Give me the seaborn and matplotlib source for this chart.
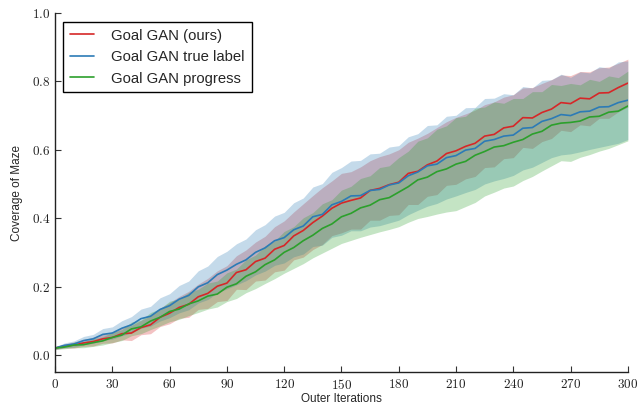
import numpy as np
import pandas as pd
import matplotlib
matplotlib.use("Agg")
import matplotlib.pyplot as plt
import seaborn as sns

# ---------------- data ----------------
iterations = list(range(0, 301, 5))

red_mean = [0.020, 0.026, 0.029, 0.035, 0.039, 0.047, 0.051, 0.062, 0.064, 0.080,
            0.088, 0.110, 0.122, 0.139, 0.148, 0.170, 0.180, 0.201, 0.210, 0.241,
            0.249, 0.273, 0.283, 0.309, 0.320, 0.348, 0.364, 0.387, 0.406, 0.429,
            0.444, 0.452, 0.459, 0.481, 0.487, 0.498, 0.505, 0.531, 0.537, 0.556,
            0.567, 0.589, 0.597, 0.610, 0.619, 0.640, 0.645, 0.664, 0.669, 0.694,
            0.693, 0.709, 0.719, 0.738, 0.735, 0.751, 0.749, 0.766, 0.767, 0.782,
            0.795]
red_std = [0.004, 0.006, 0.009, 0.010, 0.013, 0.013, 0.016, 0.018, 0.022, 0.021,
           0.026, 0.027, 0.031, 0.032, 0.038, 0.037, 0.044, 0.045, 0.051, 0.049,
           0.058, 0.057, 0.064, 0.066, 0.072, 0.070, 0.078, 0.079, 0.083, 0.080,
           0.087, 0.084, 0.091, 0.087, 0.093, 0.090, 0.095, 0.091, 0.097, 0.092,
           0.098, 0.093, 0.098, 0.095, 0.097, 0.092, 0.095, 0.090, 0.092, 0.087,
           0.089, 0.085, 0.086, 0.081, 0.082, 0.078, 0.079, 0.074, 0.075, 0.071,
           0.070]

blue_mean = [0.020, 0.028, 0.032, 0.042, 0.047, 0.060, 0.064, 0.078, 0.088, 0.106,
             0.113, 0.133, 0.144, 0.163, 0.174, 0.199, 0.211, 0.235, 0.248, 0.265,
             0.278, 0.300, 0.313, 0.334, 0.343, 0.366, 0.377, 0.404, 0.411, 0.439,
             0.449, 0.465, 0.466, 0.481, 0.484, 0.497, 0.503, 0.524, 0.535, 0.553,
             0.558, 0.577, 0.583, 0.599, 0.604, 0.625, 0.630, 0.640, 0.643, 0.663,
             0.665, 0.683, 0.691, 0.703, 0.700, 0.711, 0.713, 0.725, 0.726, 0.738,
             0.745]
blue_std = [0.004, 0.007, 0.009, 0.012, 0.013, 0.017, 0.018, 0.022, 0.024, 0.028,
            0.029, 0.034, 0.035, 0.040, 0.042, 0.047, 0.049, 0.053, 0.055, 0.060,
            0.061, 0.066, 0.068, 0.072, 0.074, 0.079, 0.082, 0.087, 0.090, 0.095,
            0.099, 0.102, 0.103, 0.107, 0.106, 0.111, 0.109, 0.114, 0.112, 0.118,
            0.115, 0.121, 0.118, 0.124, 0.120, 0.125, 0.121, 0.124, 0.118, 0.122,
            0.116, 0.120, 0.114, 0.118, 0.112, 0.117, 0.112, 0.118, 0.113, 0.119,
            0.115]

green_mean = [0.020, 0.023, 0.029, 0.030, 0.036, 0.041, 0.051, 0.058, 0.076, 0.082,
              0.099, 0.110, 0.127, 0.134, 0.149, 0.158, 0.172, 0.178, 0.198, 0.208,
              0.230, 0.243, 0.264, 0.278, 0.300, 0.314, 0.334, 0.350, 0.370, 0.383,
              0.404, 0.414, 0.430, 0.438, 0.454, 0.460, 0.476, 0.492, 0.512, 0.520,
              0.536, 0.544, 0.558, 0.566, 0.584, 0.595, 0.608, 0.612, 0.622, 0.630,
              0.646, 0.654, 0.672, 0.678, 0.680, 0.684, 0.696, 0.698, 0.710, 0.713,
              0.728]
green_std = [0.004, 0.005, 0.008, 0.009, 0.011, 0.012, 0.015, 0.016, 0.020, 0.020,
             0.025, 0.025, 0.030, 0.030, 0.034, 0.034, 0.038, 0.038, 0.042, 0.043,
             0.048, 0.049, 0.055, 0.055, 0.061, 0.061, 0.067, 0.066, 0.072, 0.071,
             0.078, 0.079, 0.086, 0.086, 0.094, 0.093, 0.101, 0.104, 0.113, 0.115,
             0.124, 0.126, 0.136, 0.132, 0.138, 0.130, 0.132, 0.124, 0.128, 0.120,
             0.124, 0.116, 0.119, 0.110, 0.114, 0.106, 0.110, 0.102, 0.106, 0.098,
             0.102]

labels = ["Goal GAN (ours)", "Goal GAN true label", "Goal GAN progress"]
colors = ["#d62728", "#2c7bb6", "#2ca02c"]
means = [red_mean, blue_mean, green_mean]
stds = [red_std, blue_std, green_std]

x_ticks = [0, 30, 60, 90, 120, 150, 180, 210, 240, 270, 300]
y_ticks = [0.0, 0.2, 0.4, 0.6, 0.8, 1.0]

# ---------------- figure ----------------
sns.set_style("ticks")
plt.rcParams["font.family"] = ["Liberation Sans", "DejaVu Sans"]
plt.rcParams["mathtext.fontset"] = "cm"

fig = plt.figure(figsize=(6.4, 4.07), dpi=100)
ax = fig.add_axes([0.086, 0.086, 0.895, 0.882])

frames = []
for lab, m in zip(labels, means):
    frames.append(pd.DataFrame({"Outer Iterations": iterations,
                                "Coverage": m, "method": lab}))
df = pd.concat(frames, ignore_index=True)

for lab, m, s, c in zip(labels, means, stds, colors):
    m = np.asarray(m)
    s = np.asarray(s)
    ax.fill_between(iterations, m - s, m + s, color=c, alpha=0.28, lw=0)

sns.lineplot(data=df, x="Outer Iterations", y="Coverage", hue="method",
             hue_order=labels, palette=colors, errorbar=None, lw=1.2, ax=ax)

ax.set_xlim(0, 300)
ax.set_ylim(-0.05, 1.0)
ax.set_xticks(x_ticks)
ax.set_xticklabels([f"${t}$" for t in x_ticks])
ax.set_yticks(y_ticks)
ax.set_yticklabels([f"${t:.1f}$" for t in y_ticks])
ax.tick_params(direction="in", length=4, width=0.8, labelsize=9.5, colors="#333333",
               labelcolor="#222222")
ax.tick_params(axis="x", pad=4)
for sp in ["top", "right"]:
    ax.spines[sp].set_visible(False)
for sp in ["left", "bottom"]:
    ax.spines[sp].set_linewidth(1.0)
    ax.spines[sp].set_color("#222222")

ax.set_xlabel("Outer Iterations", fontsize=8.5, labelpad=1)
ax.set_ylabel("Coverage of Maze", fontsize=8.5, labelpad=6)

leg = ax.legend(loc="upper left", bbox_to_anchor=(0.014, 0.975), borderaxespad=0,
                frameon=True, fancybox=False, edgecolor="black", fontsize=10.7,
                handlelength=1.6, handletextpad=1.2, labelspacing=0.5, borderpad=0.45)
leg.get_frame().set_linewidth(1.0)
leg.get_frame().set_alpha(1.0)
for line in leg.get_lines():
    line.set_linewidth(1.2)

fig.savefig("out.png", dpi=100)
